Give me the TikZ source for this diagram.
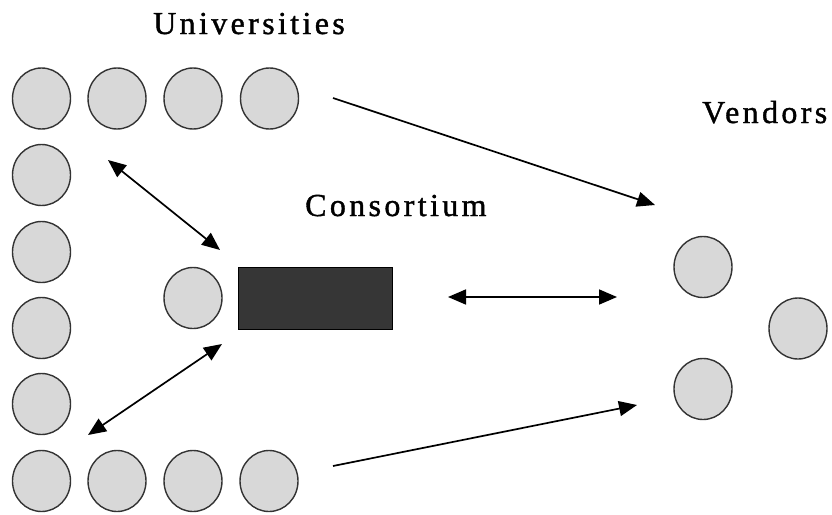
\documentclass[tikz,border=0pt]{standalone}
\usepackage{fontspec}
\setmainfont{Liberation Serif}
\usetikzlibrary{shapes.geometric,arrows.meta}
\definecolor{circfill}{HTML}{D8D8D8}
\definecolor{circline}{HTML}{333333}
\definecolor{boxfill}{HTML}{363636}
\tikzset{
  unode/.style={ellipse,draw=circline,line width=1.4pt,fill=circfill,minimum width=58pt,minimum height=61pt,inner sep=0pt},
  lbl/.style={anchor=base west,inner sep=0pt,font=\fontsize{32}{36}\selectfont\addfontfeature{LetterSpace=10.5,FakeBold=1.2}},
  conn/.style={line width=1.7pt,draw=black,-{Triangle[length=18pt,width=15pt]}},
  dconn/.style={line width=1.7pt,draw=black,{Triangle[length=18pt,width=15pt]}-{Triangle[length=18pt,width=15pt]}}
}
\begin{document}
\begin{tikzpicture}[x=1pt,y=-1pt]
\useasboundingbox (0,0) rectangle (832,514);
% labels
\node[lbl] (tuni) at (153,34) {Universities};
\node[lbl] (tcon) at (305,216) {Consortium};
\node[lbl] (tven) at (702,123) {Vendors};
% top row
\node[unode] (t1) at (41.5,98.5) {};
\node[unode] (t2) at (117,98.5) {};
\node[unode] (t3) at (193,98.5) {};
\node[unode] (t4) at (269.5,98.5) {};
% left column
\node[unode] (l1) at (41.5,175) {};
\node[unode] (l2) at (41.5,252) {};
\node[unode] (l3) at (41.5,328) {};
\node[unode] (l4) at (41.5,404) {};
% bottom row
\node[unode] (b1) at (41.5,481) {};
\node[unode] (b2) at (117,481) {};
\node[unode] (b3) at (193,481) {};
\node[unode] (b4) at (269,481) {};
% consortium
\node[unode] (cc) at (193,298) {};
\node[draw=black,line width=1pt,fill=boxfill,minimum width=154pt,minimum height=62pt,inner sep=0pt] (cbox) at (315,298) {};
% vendors
\node[unode] (v1) at (703,267) {};
\node[unode] (v2) at (798,328.5) {};
\node[unode] (v3) at (703,389) {};
% arrow end points
\coordinate (a1s) at (333,98);
\coordinate (a1e) at (655,205);
\coordinate (a2s) at (333,466);
\coordinate (a2e) at (637,405);
\coordinate (h1) at (448,297);
\coordinate (h2) at (617,297);
\coordinate (u1) at (108,160);
\coordinate (u2) at (220,250);
\coordinate (d1) at (222,344);
\coordinate (d2) at (88,435);
% connectors
\draw[conn] (a1s) -- (a1e);
\draw[conn] (a2s) -- (a2e);
\draw[dconn] (h1) -- (h2);
\draw[dconn] (u1) -- (u2);
\draw[dconn] (d1) -- (d2);
\end{tikzpicture}
\end{document}
